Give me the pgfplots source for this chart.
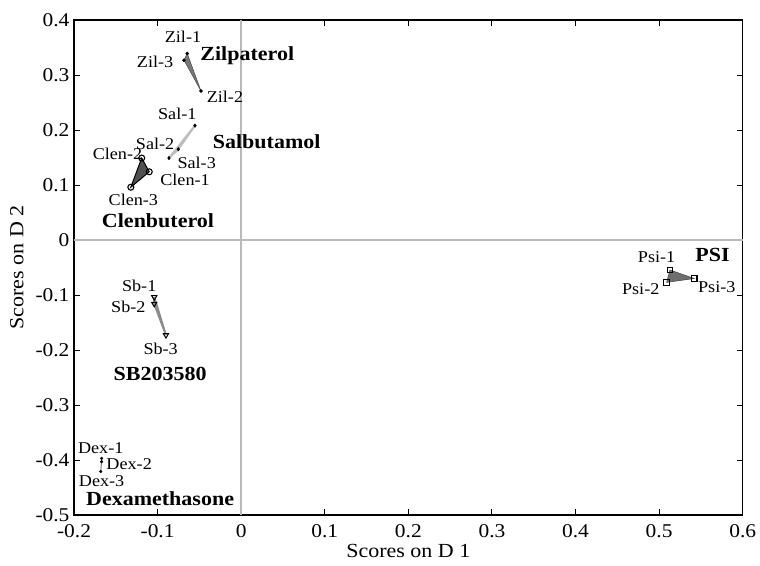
\documentclass[border=0pt]{standalone}
\usepackage{pgfplots}
\pgfplotsset{compat=1.18}
\usepackage{fontspec}
\setmainfont[FakeStretch=1.1]{Liberation Serif}
\definecolor{refgray}{RGB}{185,185,185}
\definecolor{zilfill}{RGB}{120,120,120}
\definecolor{clenfill}{RGB}{80,80,80}
\definecolor{salline}{RGB}{190,190,190}
\definecolor{sbline}{RGB}{140,140,140}
\definecolor{psifill}{RGB}{110,110,110}
\begin{document}
\begin{tikzpicture}
\useasboundingbox (-74pt,-50pt) rectangle (686pt,515pt);
\begin{axis}[
  scale only axis,
  width=668.7pt, height=495pt,
  xmin=-0.2, xmax=0.6, ymin=-0.5, ymax=0.4,
  xtick={-0.2,-0.1,0,0.1,0.2,0.3,0.4,0.5,0.6},
  ytick={-0.5,-0.4,-0.3,-0.2,-0.1,0,0.1,0.2,0.3,0.4},
  xticklabels={-0.2,-0.1,0,0.1,0.2,0.3,0.4,0.5,0.6},
  yticklabels={-0.5,-0.4,-0.3,-0.2,-0.1,0,0.1,0.2,0.3,0.4},
  tick align=inside, major tick length=6pt,
  tick style={black, line width=1pt},
  axis line style={line width=1.3pt},
  ticklabel style={font=\fontsize{19.5}{22}\selectfont},
  xlabel={Scores on D 1}, ylabel={Scores on D 2},
  label style={font=\fontsize{20}{22}\selectfont},
  xlabel style={yshift=0pt},
  ylabel style={yshift=5pt},
  xticklabel style={yshift=-6pt},
  yticklabel style={xshift=-1pt},
  clip=false,
]
\addplot[refgray, line width=1.6pt] coordinates {(0,-0.5) (0,0.4)};
\addplot[refgray, line width=1.6pt] coordinates {(-0.2,0) (0.6,0)};

% Zilpaterol
\addplot[fill=zilfill, draw=zilfill!70!black, line width=0.6pt] coordinates {(-0.0645,0.339) (-0.0481,0.271) (-0.0684,0.327)} -- cycle;
\addplot[only marks, mark=*, mark size=1.6pt, black] coordinates {(-0.0645,0.339) (-0.0481,0.271) (-0.0684,0.327)};
% Salbutamol
\addplot[draw=salline, line width=2pt] coordinates {(-0.0553,0.208) (-0.0752,0.165) (-0.0864,0.149) (-0.0553,0.208)};
\addplot[only marks, mark=diamond*, mark size=1.8pt, black] coordinates {(-0.0553,0.208) (-0.0752,0.165) (-0.0864,0.149)};
% Clenbuterol
\addplot[fill=clenfill, draw=black, line width=1pt] coordinates {(-0.119,0.149) (-0.110,0.124) (-0.132,0.096)} -- cycle;
\addplot[only marks, mark=o, mark size=3pt, black, line width=1.1pt] coordinates {(-0.119,0.149) (-0.110,0.124) (-0.132,0.096)};
% SB203580
\addplot[draw=sbline, line width=2pt] coordinates {(-0.104,-0.104) (-0.104,-0.116) (-0.090,-0.173) (-0.104,-0.104)};
\addplot[only marks, mark=triangle, mark size=3pt, black, line width=1pt, mark options={rotate=180}] coordinates {(-0.104,-0.104) (-0.104,-0.116) (-0.090,-0.173)};
% Dexamethasone
\addplot[draw=gray, line width=1pt] coordinates {(-0.167,-0.397) (-0.167,-0.403) (-0.168,-0.421)};
\addplot[only marks, mark=*, mark size=1.4pt, black] coordinates {(-0.167,-0.397) (-0.167,-0.403) (-0.168,-0.421)};
% PSI
\addplot[fill=psifill, draw=psifill!70!black, line width=0.6pt] coordinates {(0.513,-0.0545) (0.509,-0.077) (0.542,-0.070)} -- cycle;
\addplot[only marks, mark=square, mark size=2.8pt, black, line width=1.1pt] coordinates {(0.513,-0.0545) (0.509,-0.077) (0.542,-0.070)};

% labels
\begin{scope}[every node/.style={font=\fontsize{16.5}{18}\selectfont, inner sep=0pt}]
\node at (axis cs:-0.0696,0.369) {Zil-1};
\node at (axis cs:-0.103,0.324) {Zil-3};
\node at (axis cs:-0.0194,0.260) {Zil-2};
\node at (axis cs:-0.0764,0.230) {Sal-1};
\node at (axis cs:-0.103,0.174) {Sal-2};
\node at (axis cs:-0.0532,0.141) {Sal-3};
\node at (axis cs:-0.148,0.156) {Clen-2};
\node at (axis cs:-0.0672,0.110) {Clen-1};
\node at (axis cs:-0.129,0.0727) {Clen-3};
\node at (axis cs:-0.122,-0.083) {Sb-1};
\node at (axis cs:-0.135,-0.122) {Sb-2};
\node at (axis cs:-0.0963,-0.198) {Sb-3};
\node at (axis cs:-0.168,-0.379) {Dex-1};
\node at (axis cs:-0.134,-0.407) {Dex-2};
\node at (axis cs:-0.167,-0.438) {Dex-3};
\node at (axis cs:0.497,-0.0315) {Psi-1};
\node at (axis cs:0.478,-0.0896) {Psi-2};
\node at (axis cs:0.569,-0.086) {Psi-3};
\end{scope}
\begin{scope}[every node/.style={font=\fontsize{20}{22}\selectfont\bfseries, inner sep=0pt}]
\node at (axis cs:0.0073,0.335) {Zilpaterol};
\node at (axis cs:0.0305,0.178) {Salbutamol};
\node at (axis cs:-0.0995,0.0345) {Clenbuterol};
\node at (axis cs:-0.097,-0.244) {SB203580};
\node at (axis cs:-0.097,-0.471) {Dexamethasone};
\node at (axis cs:0.564,-0.027) {PSI};
\end{scope}
\end{axis}
\end{tikzpicture}
\end{document}
